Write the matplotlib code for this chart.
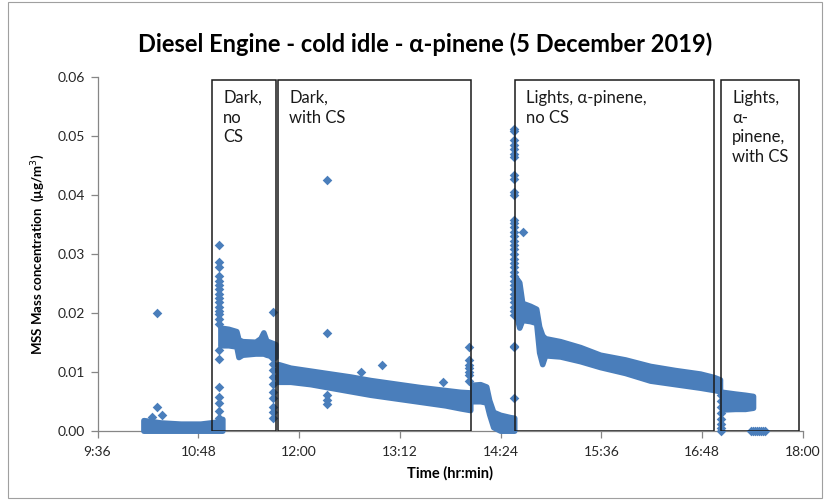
import matplotlib
matplotlib.use("Agg")
import matplotlib.pyplot as plt
from matplotlib.patches import Rectangle
from matplotlib.ticker import FixedLocator, FuncFormatter

plt.rcParams['font.family'] = ['Lato', 'DejaVu Sans']

# ---------------- data (time in minutes after midnight, value in ug/m3) --------------
title = "Diesel Engine - cold idle - \u03b1-pinene (5 December 2019)"
xlabel = "Time (hr:min)"
ylabel = "MSS Mass concentration  (\u00b5g/m$^3$)"
xticks_min = [576, 648, 720, 792, 864, 936, 1008, 1080]
yticks = [0.00, 0.01, 0.02, 0.03, 0.04, 0.05, 0.06]

# experiment periods: (start, end, label)
period_start = [657.9, 704.9, 874.4, 1021.5]
period_end = [703.6, 843.0, 1016.5, 1077.2]
period_labels = ["Dark,\nno\nCS", "Dark,\nwith CS", "Lights, \u03b1-pinene,\nno CS",
                 "Lights,\n\u03b1-\npinene,\nwith CS"]

# dense measurement bands: time, lower edge, upper edge
bandA_t = [608.8, 621.0, 635.3, 649.5, 660.2, 665.2]
bandA_lo = [0.0000, 0.0000, 0.0000, 0.0000, 0.0000, 0.0000]
bandA_hi = [0.0018, 0.0014, 0.0012, 0.0012, 0.0015, 0.0020]

bandB_t = [663.8, 669.5, 675.2, 676.7, 679.5, 688.8, 692.4, 694.5, 696.6, 703.1]
bandB_lo = [0.0145, 0.0145, 0.0143, 0.0125, 0.0129, 0.0131, 0.0131, 0.0131, 0.0129, 0.0125]
bandB_hi = [0.0175, 0.0173, 0.0169, 0.0155, 0.0152, 0.0151, 0.0157, 0.0167, 0.0153, 0.0147]

bandC_t = [705.2, 713.8, 728.1, 742.3, 756.6, 770.9, 788.7, 806.6, 824.4, 835.1, 842.3]
bandC_lo = [0.0083, 0.0083, 0.0079, 0.0073, 0.0067, 0.0061, 0.0055, 0.0049, 0.0043, 0.0038, 0.0035]
bandC_hi = [0.0113, 0.0107, 0.0102, 0.0097, 0.0092, 0.0086, 0.0080, 0.0074, 0.0069, 0.0066, 0.0065]

bandD_t = [843.7, 849.4, 853.7, 855.8, 858.7, 863.7, 870.8, 873.7]
bandD_lo = [0.0050, 0.0050, 0.0048, 0.0028, 0.0006, 0.0000, 0.0000, 0.0000]
bandD_hi = [0.0078, 0.0079, 0.0075, 0.0052, 0.0032, 0.0027, 0.0023, 0.0022]

bandE_t = [875.1, 877.3, 879.4, 885.1, 889.4, 891.5, 893.7, 895.8, 906.5, 920.8,
           935.1, 952.9, 970.8, 988.6, 1006.5, 1016.5, 1020.7]
bandE_lo = [0.0196, 0.0175, 0.0188, 0.0186, 0.0183, 0.0133, 0.0113, 0.0128, 0.0126, 0.0118,
            0.0108, 0.0098, 0.0085, 0.0079, 0.0073, 0.0069, 0.0067]
bandE_hi = [0.0259, 0.0252, 0.0217, 0.0212, 0.0207, 0.0177, 0.0162, 0.0157, 0.0152, 0.0142,
            0.0129, 0.0121, 0.0110, 0.0103, 0.0097, 0.0091, 0.0087]

bandF_t = [1022.2, 1031.5, 1038.6, 1044.3]
bandF_lo = [0.0036, 0.0037, 0.0037, 0.0039]
bandF_hi = [0.0066, 0.0063, 0.0061, 0.0059]

# individual (sparse) measurements
pts_t = ([618.6, 618.6, 615.0, 622.0]
         + [662.6] * 23
         + [701.3] * 11
         + [740.2] * 5 + [764.5, 779.5, 823.0]
         + [841.6] * 7
         + [873.2] * 37 + [880.1]
         + [1021.2] * 8
         + [1042.5, 1044.0, 1045.5, 1047.0, 1048.5, 1050.0, 1051.5, 1052.5])
pts_v = ([0.0200, 0.0041, 0.0024, 0.0026]
         + [0.0315, 0.0286, 0.0278, 0.0262, 0.0255, 0.0248, 0.0240, 0.0232, 0.0225, 0.0218,
            0.0210, 0.0204, 0.0198, 0.0190, 0.0182, 0.0137, 0.0121, 0.0074, 0.0058, 0.0047,
            0.0033, 0.0022, 0.0010]
         + [0.0202, 0.0123, 0.0114, 0.0103, 0.0092, 0.0080, 0.0066, 0.0055, 0.0041, 0.0032, 0.0021]
         + [0.0425, 0.0166, 0.0060, 0.0052, 0.0045] + [0.0100, 0.0112, 0.0082]
         + [0.0142, 0.0120, 0.0112, 0.0106, 0.0100, 0.0094, 0.0085]
         + [0.0512, 0.0508, 0.0493, 0.0485, 0.0478, 0.0470, 0.0465, 0.0434, 0.0428, 0.0405,
            0.0400, 0.0357, 0.0352, 0.0345, 0.0338, 0.0330, 0.0322, 0.0315, 0.0308, 0.0300,
            0.0292, 0.0285, 0.0278, 0.0270, 0.0262, 0.0255, 0.0248, 0.0240, 0.0232, 0.0225,
            0.0218, 0.0210, 0.0203, 0.0196, 0.0144, 0.0142, 0.0056] + [0.0338]
         + [0.0060, 0.0050, 0.0040, 0.0030, 0.0020, 0.0012, 0.0005, 0.0000]
         + [0.0000] * 8)

# ---------------- figure ----------------
BLUE = '#4A7EBB'
fig = plt.figure(figsize=(8.24, 5.0), dpi=100)
ax = fig.add_axes([97.5 / 824, 1 - 430.7 / 500, (803 - 97.5) / 824, (430.7 - 77.3) / 500])

for bt, blo, bhi in [(bandA_t, bandA_lo, bandA_hi), (bandB_t, bandB_lo, bandB_hi),
                     (bandC_t, bandC_lo, bandC_hi), (bandD_t, bandD_lo, bandD_hi),
                     (bandE_t, bandE_lo, bandE_hi), (bandF_t, bandF_lo, bandF_hi)]:
    ax.fill_between(bt, blo, bhi, color=BLUE, linewidth=4.0, edgecolor=BLUE, zorder=3,
                    joinstyle='round', capstyle='round', clip_on=False)

ax.scatter(pts_t, pts_v, marker='D', s=24, color=BLUE, linewidths=0, zorder=4, clip_on=False)

# period boxes
for s, e, lab in zip(period_start, period_end, period_labels):
    ax.add_patch(Rectangle((s, 0), e - s, 0.0596, fill=False, edgecolor='#1a1a1a',
                           linewidth=1.1, zorder=5))
    ax.text(s + 8.0, 0.0579, lab, ha='left', va='top', fontsize=12, linespacing=1.3,
            color='#1a1a1a', zorder=6)

ax.set_xlim(576, 1080)
ax.set_ylim(0, 0.06)
ax.xaxis.set_major_locator(FixedLocator(xticks_min))
ax.xaxis.set_major_formatter(FuncFormatter(lambda v, p: f"{int(v // 60)}:{int(round(v % 60)):02d}"))
ax.yaxis.set_major_locator(FixedLocator(yticks))
ax.yaxis.set_major_formatter(FuncFormatter(lambda v, p: f"{v:.2f}"))

for sp in ['top', 'right']:
    ax.spines[sp].set_visible(False)
for sp in ['left', 'bottom']:
    ax.spines[sp].set_color('#868686')
    ax.spines[sp].set_linewidth(0.9)
ax.tick_params(axis='both', direction='out', length=5, width=0.9, color='#868686',
               labelsize=10, labelcolor='#262626')
ax.tick_params(axis='x', pad=6)
ax.tick_params(axis='y', pad=4)

ax.set_xlabel(xlabel, fontsize=10.5, fontweight='bold', labelpad=6)
ax.set_ylabel(ylabel, fontsize=9.5, fontweight='bold', labelpad=8)
fig.text(425 / 824, 1 - 44 / 500, title, ha='center', va='center', fontsize=17,
         fontweight='bold', color='black')

# chart area border
fig.patches.append(Rectangle((8 / 824, 2 / 500), 814 / 824, 496 / 500, transform=fig.transFigure,
                             fill=False, edgecolor='#a0a0a0', linewidth=0.8))

fig.savefig('out.png', dpi=100)
